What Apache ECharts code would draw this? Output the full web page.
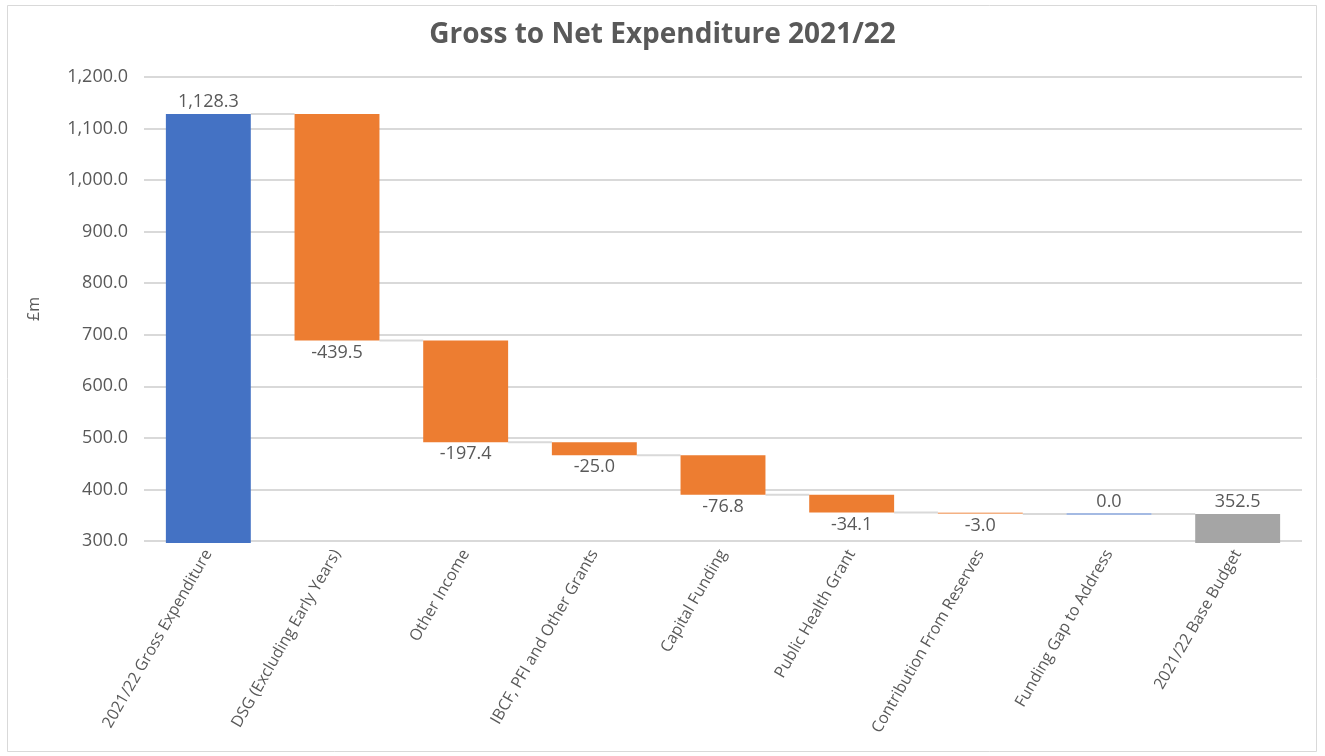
<!DOCTYPE html>
<html>
<head>
<meta charset="utf-8">
<script src="https://cdn.jsdelivr.net/npm/echarts@6/dist/echarts.min.js"></script>
<style>
html,body{margin:0;padding:0;background:#fff;}
#chart{width:1325px;height:756px;}
</style>
</head>
<body>
<div id="chart"></div>
<script>
const categories = [
  '2021/22 Gross Expenditure',
  'DSG (Excluding Early Years)',
  'Other Income',
  'IBCF, PFI and Other Grants',
  'Capital Funding',
  'Public Health Grant',
  'Contribution From Reserves',
  'Funding Gap to Address',
  '2021/22 Base Budget'
];
const changes = [1128.3, -439.5, -197.4, -25.0, -76.8, -34.1, -3.0, 0.0, 352.5];
const kinds = ['total', 'delta', 'delta', 'delta', 'delta', 'delta', 'delta', 'delta', 'total'];
const yTicks = { min: 300, max: 1200, interval: 100 };

const COLORS = { first: '#4472C4', dec: '#ED7D31', inc: '#4472C4', last: '#A5A5A5' };
const TEXT = '#595959';
const FONT = '"Open Sans", "Noto Sans", sans-serif';

// running totals
const rows = [];
let run = 0;
changes.forEach((v, i) => {
  let start, end, color;
  if (kinds[i] === 'total') {
    start = 0; end = v; run = v;
    color = i === 0 ? COLORS.first : COLORS.last;
  } else {
    start = run; end = run + v; run = end;
    color = v < 0 ? COLORS.dec : COLORS.inc;
  }
  rows.push([i, start, end, v, color]);
});

const fmt = v => v.toLocaleString('en-GB', { minimumFractionDigits: 1, maximumFractionDigits: 1 });

const chart = echarts.init(document.getElementById('chart'));

chart.setOption({
  animation: false,
  backgroundColor: '#fff',
  title: {
    text: 'Gross to Net Expenditure 2021/22',
    left: 'center',
    top: 16,
    textStyle: { fontFamily: FONT, fontSize: 28, fontWeight: 'bold', color: TEXT }
  },
  graphic: [{
    type: 'rect',
    shape: { x: 7.5, y: 5.5, width: 1309, height: 746 },
    style: { fill: 'none', stroke: '#d9d9d9', lineWidth: 1 },
    silent: true
  }],
  grid: { left: 144, right: 23, top: 77, bottom: 215, containLabel: false },
  xAxis: {
    type: 'category',
    data: categories,
    axisLine: { show: false },
    axisTick: { show: false },
    axisLabel: {
      rotate: 60, interval: 0, margin: 10,
      fontFamily: FONT, fontSize: 16, color: TEXT
    }
  },
  yAxis: {
    type: 'value',
    min: yTicks.min, max: yTicks.max, interval: yTicks.interval,
    name: '£m',
    nameLocation: 'middle',
    nameGap: 102,
    nameRotate: 90,
    nameTextStyle: { fontFamily: FONT, fontSize: 16, color: TEXT },
    axisLine: { show: false },
    axisTick: { show: false },
    splitLine: { lineStyle: { color: '#d9d9d9', width: 2 } },
    axisLabel: {
      margin: 16,
      fontFamily: FONT, fontSize: 18, color: TEXT,
      formatter: v => fmt(v)
    }
  },
  series: [{
    type: 'custom',
    data: rows,
    encode: { x: 0, y: [1, 2] },
    clip: false,
    renderItem: function (params, api) {
      const i = api.value(0);
      const s = api.value(1), e = api.value(2), v = api.value(3);
      const color = rows[i][4];
      const band = api.size([1, 0])[0];
      const w = band * 0.66;
      const cs = params.coordSys;
      const pTop = api.coord([i, Math.max(s, e)]);
      const pBot = api.coord([i, Math.min(s, e)]);
      const x0 = pTop[0] - w / 2;
      const yTop = pTop[1];
      const yBot = Math.min(pBot[1], cs.y + cs.height + 2);
      const children = [];
      // connector to next bar
      if (i < rows.length - 1) {
        const nextX = api.coord([i + 1, 0])[0] - w / 2;
        const lvl = api.coord([i, e])[1];
        children.push({
          type: 'line',
          shape: { x1: x0 + w, y1: lvl, x2: nextX, y2: lvl },
          style: { stroke: '#d9d9d9', lineWidth: 2 }
        });
      }
      if (yBot - yTop < 1.5) {
        children.push({
          type: 'line',
          shape: { x1: x0, y1: yTop, x2: x0 + w, y2: yTop },
          style: { stroke: color, lineWidth: 1.5, opacity: 0.65 }
        });
      } else {
        children.push({
          type: 'rect',
          shape: { x: x0, y: yTop, width: w, height: yBot - yTop },
          style: { fill: color, opacity: (yBot - yTop) < 3 ? 0.6 : 1 }
        });
      }
      // label
      const below = kinds[i] === 'delta' && v < 0;
      children.push({
        type: 'text',
        style: {
          text: fmt(v),
          x: x0 + w / 2,
          y: below ? yBot + 3 : yTop - 3,
          align: 'center',
          verticalAlign: below ? 'top' : 'bottom',
          fontFamily: FONT, fontSize: 18, fill: TEXT
        }
      });
      return { type: 'group', children: children };
    }
  }]
});
</script>
</body>
</html>
